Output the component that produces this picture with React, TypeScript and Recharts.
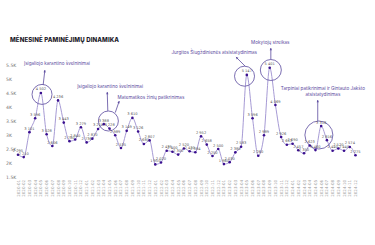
import { LineChart, Line, XAxis, YAxis, LabelList, ReferenceDot, ReferenceLine } from 'recharts'

const months = [
  '2020-01', '2020-02', '2020-03', '2020-04', '2020-05', '2020-06', '2020-07', '2020-08', '2020-09', '2020-10', '2020-11', '2020-12',
  '2021-01', '2021-02', '2021-03', '2021-04', '2021-05', '2021-06', '2021-07', '2021-08', '2021-09', '2021-10', '2021-11', '2021-12',
  '2022-01', '2022-02', '2022-03', '2022-04', '2022-05', '2022-06', '2022-07', '2022-08', '2022-09', '2022-10', '2022-11', '2022-12',
  '2023-01', '2023-02', '2023-03', '2023-04', '2023-05', '2023-06', '2023-07', '2023-08', '2023-09', '2023-10', '2023-11', '2023-12',
  '2024-01', '2024-02', '2024-03', '2024-04', '2024-05', '2024-06', '2024-07', '2024-08', '2024-09', '2024-10', '2024-11', '2024-12',
]

const mentions = [
  2295, 2210, 3101, 3596, 4502, 3028, 2606, 4236, 3443, 2780, 2840, 3279,
  2736, 2870, 3215, 3388, 3228, 2989, 2535, 3149, 3610, 3126, 2680, 2807,
  1950, 2020, 2439, 2400, 2300, 2520, 2420, 2384, 2952, 2658, 2250, 2500,
  1960, 2030, 2380, 2583, 5147, 3596, 2260, 2989, 5401, 4069, 2926, 2653,
  2690, 2457, 2350, 2623, 2460, 3318, 2816, 2440, 2520, 2440, 2574, 2275,
]

const yTicks = [1500, 2000, 2500, 3000, 3500, 4000, 4500, 5000, 5500]
const yTickLabels = ['1.5K', '2K', '2.5K', '3K', '3.5K', '4K', '4.5K', '5K', '5.5K']

// annotations in data space (x = month index, y = mentions)
const circles = [
  { x: 4.2, y: 4450, r: 10 },
  { x: 15.8, y: 3500, r: 10 },
  { x: 39.6, y: 5100, r: 10 },
  { x: 44.2, y: 5321, r: 10.5 },
  { x: 52.6, y: 3000, r: 14 },
]

const arrows = [
  { from: { x: 4.4, y: 4790 }, to: { x: 4.7, y: 5320 } },
  { from: { x: 15.7, y: 3860 }, to: { x: 15.6, y: 4536 } },
  { from: { x: 17.0, y: 3800 }, to: { x: 17.7, y: 4214 } },
  { from: { x: 39.7, y: 5460 }, to: { x: 38.1, y: 5786 } },
  { from: { x: 44.2, y: 5700 }, to: { x: 44.2, y: 6107 } },
  { from: { x: 52.4, y: 3500 }, to: { x: 52.4, y: 4250 } },
]

const notes = [
  { x: 6.8, y: 5536, text: 'Įsigaliojo karantino švelninimai', anchor: 'middle' },
  { x: 16.1, y: 4750, text: 'Įsigaliojo karantino švelninimai', anchor: 'middle' },
  { x: 17.4, y: 4357, text: 'Matematikos žinių patikrinimas', anchor: 'start' },
  { x: 34.3, y: 5929, text: 'Jurgitos Šiugždinienės atsistatydinimas', anchor: 'middle' },
  { x: 44.1, y: 6286, text: 'Mokytojų streikas', anchor: 'middle' },
  { x: 53.3, y: 4643, text: 'Tarpiniai patikrinimai ir Gintauto Jakšto', anchor: 'middle' },
  { x: 53.3, y: 4464, text: 'atsistatydinimas', anchor: 'middle' },
]

const data = months.map((m, i) => ({ i, month: m, value: mentions[i] }))

const purple = '#5b4a9e'
const fmt = (n: number) => String(n).replace(/\B(?=(\d{3})+(?!\d))/g, ' ')

const renderXTick = ({ x, payload }: any) => (
  <text transform={`translate(${x + 1.5},180) rotate(-90)`} textAnchor="end" fontSize={4} fill="#9a9a9a" fontFamily="DejaVu Sans">
    {months[payload.value]}
  </text>
)

const renderYTick = ({ y, payload }: any) => (
  <text x={6} y={y} dy={1.6} textAnchor="start" fontSize={4.6} fill="#777" fontFamily="DejaVu Sans">
    {yTickLabels[yTicks.indexOf(payload.value)]}
  </text>
)

const Arrow = (props: any) => {
  const { x1, y1, x2, y2 } = props
  const a = Math.atan2(y2 - y1, x2 - x1)
  const s = 2.6
  const p1 = `${x2},${y2}`
  const p2 = `${x2 - s * Math.cos(a - 0.45)},${y2 - s * Math.sin(a - 0.45)}`
  const p3 = `${x2 - s * Math.cos(a + 0.45)},${y2 - s * Math.sin(a + 0.45)}`
  return (
    <g>
      <line x1={x1} y1={y1} x2={x2} y2={y2} stroke={purple} strokeWidth={0.8} />
      <polygon points={`${p1} ${p2} ${p3}`} fill={purple} />
    </g>
  )
}

export default function App() {
  return (
    <div style={{ position: 'absolute', left: 0, top: 0, width: 375, height: 245, background: '#fff' }}>
      <style>{'body{margin:0}'}</style>
      <div
        style={{
          position: 'absolute',
          left: 10,
          top: 36,
          fontFamily: 'Inter, "Noto Sans", sans-serif',
          fontWeight: 800,
          fontSize: 6.1,
          color: '#1d1b2b',
          letterSpacing: 0.1,
          whiteSpace: 'nowrap',
        }}
      >
        MĖNESINĖ PAMINĖJIMŲ DINAMIKA
      </div>
      <LineChart width={375} height={245} data={data} margin={{ top: 65, right: 19.5, bottom: 38, left: 0 }}>
        <XAxis
          dataKey="i"
          type="number"
          domain={[0, 59]}
          ticks={data.map((d) => d.i)}
          interval={0}
          axisLine={false}
          tickLine={false}
          tick={renderXTick}
          height={30}
        />
        <YAxis
          type="number"
          domain={[1500, 5500]}
          ticks={yTicks}
          interval={0}
          axisLine={false}
          tickLine={false}
          tick={renderYTick}
          width={18}
          allowDataOverflow
        />
        {circles.map((c, k) => (
          <ReferenceDot key={'c' + k} x={c.x} y={c.y} r={c.r} fill="none" stroke={purple} strokeWidth={0.8} ifOverflow="visible" />
        ))}
        {arrows.map((a, k) => (
          <ReferenceLine key={'a' + k} segment={[a.from, a.to]} ifOverflow="visible" shape={<Arrow />} />
        ))}
        {notes.map((n, k) => (
          <ReferenceDot
            key={'n' + k}
            x={n.x}
            y={n.y}
            r={0}
            ifOverflow="visible"
            shape={(p: any) => (
              <text x={p.cx} y={p.cy} dy={1.5} textAnchor={n.anchor as any} fontSize={4.6} fill={purple} fontFamily="Inter, sans-serif">
                {n.text}
              </text>
            )}
          />
        ))}
        <Line
          type="monotone"
          dataKey="value"
          stroke="#9c8fcf"
          strokeWidth={0.9}
          dot={{ r: 1.3, fill: '#3a0f8f', stroke: '#3a0f8f', strokeWidth: 0 }}
          isAnimationActive={false}
        >
          <LabelList dataKey="value" position="top" offset={2.5} formatter={(v: any) => fmt(Number(v))} fontSize={3.6} fill="#555" fontFamily="DejaVu Sans" />
        </Line>
      </LineChart>
    </div>
  )
}
